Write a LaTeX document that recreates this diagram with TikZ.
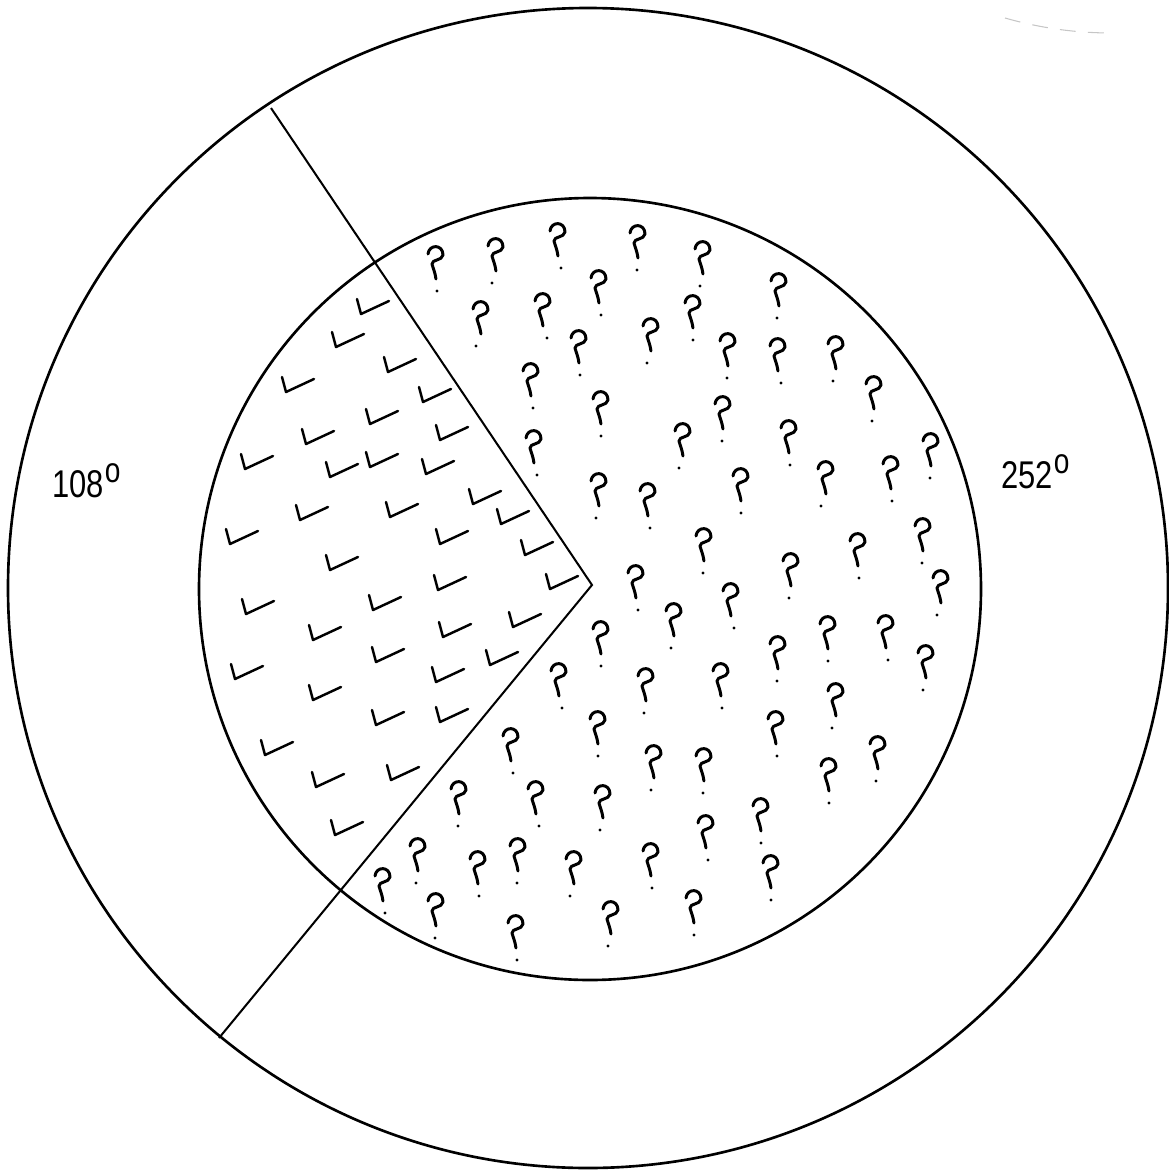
\documentclass[tikz,border=0pt]{standalone}
\usepackage{fontspec}
\newfontfamily\labfont[FakeStretch=0.8]{Liberation Sans}
\newcommand{\degsign}{\hspace{0.5pt}\raisebox{8.3pt}{\fontsize{20}{20}\selectfont o}}
\begin{document}
\begin{tikzpicture}[x=0.02cm,y=-0.02cm,
  ring/.style={line width=1.5pt},
  seg/.style={line width=1.15pt},
  ckmark/.style={line width=1.4pt,line cap=round,line join=round},
  qmark/.style={line width=1.7pt,line cap=round,line join=round},
  deg/.style={font=\labfont\fontsize{22}{26}\selectfont,inner sep=0pt},
  ck/.pic={\draw[ckmark] (-11,-8) -- (-7,7) -- (21,-6);},
  qm/.pic={\draw[qmark] (-7,-9) .. controls (-6,-19) and (8,-19) .. (8,-8) .. controls (7,-2) and (-3,-4) .. (-3,1) .. controls (-2,5) and (0,9) .. (1,16);}
]
\useasboundingbox (0,0) rectangle (1169,1170);
% circles
\draw[ring] (588,588) circle[radius=580];
\draw[ring] (590,589) circle[radius=391];
% radial lines
\coordinate (O) at (592,585);
\coordinate (A) at (271,108);
\coordinate (B) at (219,1038);
\draw[seg,line join=miter] (A) -- (O) -- (B);
% labels
\node[deg,anchor=base west] (l108) at (52,497) {108\degsign};
\node[deg,anchor=base west] (l252) at (1001,488) {252\degsign};
% faint scan mark
\draw[gray!45,line width=0.6pt,dash pattern=on 9pt off 7pt] (1005,18) .. controls (1040,28) and (1075,33) .. (1112,33);
% check marks
\foreach \x/\y in {368/307,343/340,395/365,293/385,430/395,377/417,313/437,447/433,252/462,337/470,377/460,433/467,480/497,307/513,397/510,508/517,237/537,447/537,532/548,337/563,557/582,445/583,253/607,380/603,520/620,320/633,450/630,383/655,497/658,242/672,443/675,320/693,383/718,447/715,272/748,323/780,398/773,342/828}
  \pic at (\x,\y) {ck};
% question marks with scattered dots
\foreach \x/\y/\d in {435/263/2,495/255/-3,557/240/4,637/242/0,702/258/-2,598/287/3,480/318/-4,542/310/5,692/312/1,778/290/-1,578/347/2,650/335/-3,727/350/0,777/355/4,835/353/-2,530/380/3,873/393/-1,600/408/1,722/413/0,682/440/-3,788/437/2,930/450/0,533/447/4,598/490/-2,647/500/3,740/485/1,825/478/-4,890/473/2,703/545/0,635/582/3,673/620/-2,600/638/1,730/600/4,790/570/-1,857/550/2,922/535/0,940/587/-3,827/633/1,885/632/3,777/653/0,925/662/-2,558/680/4,645/685/-1,720/680/2,835/700/-3,597/728/1,510/745/3,653/762/-2,703/765/0,775/728/2,877/753/-1,828/775/1,458/798/0,535/798/4,602/802/-2,760/815/1,705/832/3,417/855/-1,477/868/2,517/855/0,573/868/-3,650/860/2,770/872/1,382/885/3,435/910/0,515/932/2,610/918/-2,693/907/1}
  {\pic at (\x,\y) {qm};
   \fill (\x+\d,\y+28) circle[radius=1.6];}
\end{tikzpicture}
\end{document}
